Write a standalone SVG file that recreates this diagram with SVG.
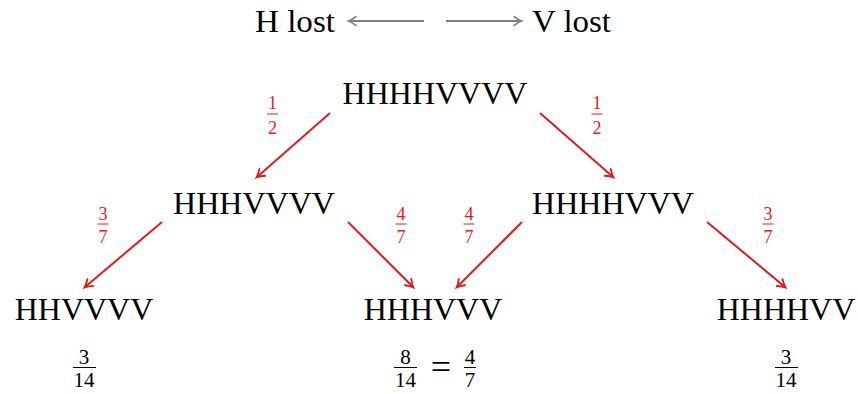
<svg xmlns="http://www.w3.org/2000/svg" width="858" height="394" viewBox="0 0 858 394">
<defs>
<style>
.node{font-family:"Liberation Serif","DejaVu Serif",serif;font-size:32px;fill:#000;text-anchor:middle}
.lbl{font-family:"Liberation Serif","DejaVu Serif",serif;font-size:32px;fill:#000}
.rf{font-family:"Liberation Serif","DejaVu Serif",serif;font-size:18px;fill:#e31a1c;text-anchor:middle}
.bf{font-family:"Liberation Serif","DejaVu Serif",serif;font-size:21px;fill:#000;text-anchor:middle}
.redge{stroke:#e31a1c;stroke-width:2;fill:none;marker-end:url(#ar)}
.gedge{stroke:#808080;stroke-width:2;fill:none;marker-end:url(#ag)}
</style>
<marker id="ar" markerUnits="userSpaceOnUse" markerWidth="20" markerHeight="20" refX="0" refY="0" viewBox="-10 -10 20 20" orient="auto" overflow="visible">
<path d="M-7,-4.5 Q-2.5,-1 0.5,0 Q-2.5,1 -7,4.5" fill="none" stroke="#e31a1c" stroke-width="1.8" stroke-linecap="round"/>
</marker>
<marker id="ag" markerUnits="userSpaceOnUse" markerWidth="20" markerHeight="20" refX="0" refY="0" viewBox="-10 -10 20 20" orient="auto" overflow="visible">
<path d="M-7,-4.5 Q-2.5,-1 0.5,0 Q-2.5,1 -7,4.5" fill="none" stroke="#808080" stroke-width="1.6" stroke-linecap="round"/>
</marker>
</defs>
<rect width="858" height="394" fill="#fff"/>

<g id="legend">
<text class="lbl" x="255" y="32" textLength="80" lengthAdjust="spacingAndGlyphs">H lost</text>
<text class="lbl" x="532" y="32" textLength="79" lengthAdjust="spacingAndGlyphs">V lost</text>
<line class="gedge" x1="424" y1="21" x2="349" y2="21"/>
<line class="gedge" x1="446" y1="21" x2="521" y2="21"/>
</g>

<g id="connectors">
<line class="redge" x1="330" y1="113" x2="257" y2="177"/>
<line class="redge" x1="540" y1="113" x2="613" y2="177"/>
<line class="redge" x1="162" y1="222" x2="85" y2="287"/>
<line class="redge" x1="348" y1="222" x2="413" y2="287"/>
<line class="redge" x1="522" y1="222" x2="457" y2="287"/>
<line class="redge" x1="707" y1="222" x2="785" y2="287"/>
</g>

<g id="edge-labels">
<g id="l-root-left"><text class="rf" x="272.5" y="109">1</text><line x1="267" y1="114" x2="278" y2="114" stroke="#e31a1c" stroke-width="1"/><text class="rf" x="272.5" y="134">2</text></g>
<g id="l-root-right"><text class="rf" x="597" y="109">1</text><line x1="591.5" y1="114" x2="602.5" y2="114" stroke="#e31a1c" stroke-width="1"/><text class="rf" x="597" y="134">2</text></g>
<g id="l-left-ll"><text class="rf" x="103" y="220">3</text><line x1="97.5" y1="224" x2="108.5" y2="224" stroke="#e31a1c" stroke-width="1"/><text class="rf" x="103" y="243">7</text></g>
<g id="l-left-mid"><text class="rf" x="401" y="220">4</text><line x1="395.5" y1="224" x2="406.5" y2="224" stroke="#e31a1c" stroke-width="1"/><text class="rf" x="401" y="243">7</text></g>
<g id="l-right-mid"><text class="rf" x="469" y="220">4</text><line x1="463.5" y1="224" x2="474.5" y2="224" stroke="#e31a1c" stroke-width="1"/><text class="rf" x="469" y="243">7</text></g>
<g id="l-right-rr"><text class="rf" x="768" y="220">3</text><line x1="762.5" y1="224" x2="773.5" y2="224" stroke="#e31a1c" stroke-width="1"/><text class="rf" x="768" y="243">7</text></g>
</g>

<g id="n-root"><text class="node" x="435" y="104">HHHHVVVV</text></g>
<g id="n-left"><text class="node" x="254" y="214">HHHVVVV</text></g>
<g id="n-right"><text class="node" x="613" y="214">HHHHVVV</text></g>
<g id="n-ll"><text class="node" x="84" y="320">HHVVVV</text></g>
<g id="n-mid"><text class="node" x="433" y="320">HHHVVV</text></g>
<g id="n-rr"><text class="node" x="786" y="320">HHHHVV</text></g>

<g id="probs">
<g id="p-ll"><text class="bf" x="84" y="364">3</text><line x1="73" y1="367.5" x2="96" y2="367.5" stroke="#000" stroke-width="1"/><text class="bf" x="84" y="387">14</text></g>
<g id="p-mid"><text class="bf" x="405.5" y="364">8</text><line x1="394" y1="367.5" x2="417" y2="367.5" stroke="#000" stroke-width="1"/><text class="bf" x="405.5" y="387">14</text>
<text class="bf" x="441" y="379" style="font-size:36px">=</text>
<text class="bf" x="470" y="364">4</text><line x1="464" y1="367.5" x2="476" y2="367.5" stroke="#000" stroke-width="1"/><text class="bf" x="470" y="387">7</text></g>
<g id="p-rr"><text class="bf" x="786" y="364">3</text><line x1="775" y1="367.5" x2="798" y2="367.5" stroke="#000" stroke-width="1"/><text class="bf" x="786" y="387">14</text></g>
</g>
</svg>
